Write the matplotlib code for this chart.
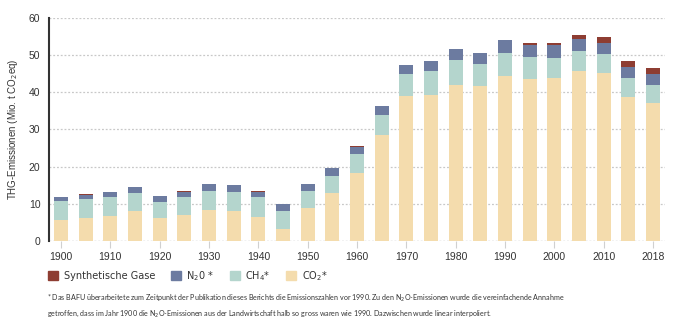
import matplotlib
matplotlib.use("Agg")
import matplotlib.pyplot as plt
import numpy as np
from matplotlib.patches import Patch

years = ["1900", "1905", "1910", "1915", "1920", "1925", "1930", "1935", "1940", "1945",
         "1950", "1955", "1960", "1965", "1970", "1975", "1980", "1985", "1990", "1995",
         "2000", "2005", "2010", "2015", "2018"]
# cumulative tops
co2_top = [5.7, 6.3, 6.8, 8.2, 6.3, 7.1, 8.4, 8.2, 6.5, 3.3, 9.0, 13.0, 18.2, 28.6, 39.1, 39.4,
           42.1, 41.8, 44.5, 43.7, 43.9, 45.8, 45.3, 38.8, 37.0]
ch4_top = [10.85, 11.4, 11.9, 13.0, 10.6, 11.9, 13.5, 13.3, 11.7, 8.2, 13.5, 17.6, 23.5, 34.0, 45.0, 45.6,
           48.8, 47.7, 50.7, 49.6, 49.1, 51.2, 50.4, 43.9, 42.1]
n2o_top = [11.9, 12.5, 13.3, 14.6, 12.2, 13.3, 15.2, 15.0, 13.3, 10.0, 15.4, 19.7, 25.4, 36.4, 47.4, 48.3,
           51.7, 50.7, 54.2, 52.8, 52.6, 54.4, 53.4, 46.9, 44.8]
syn_top = [11.9, 12.56, 13.3, 14.6, 12.2, 13.36, 15.2, 15.06, 13.36, 10.06, 15.4, 19.7, 25.46, 36.4, 47.4, 48.3,
           51.7, 50.7, 54.2, 53.4, 53.4, 55.5, 55.0, 48.5, 46.6]

co2 = np.array(co2_top)
ch4 = np.array(ch4_top) - co2
n2o = np.array(n2o_top) - np.array(ch4_top)
syn = np.array(syn_top) - np.array(n2o_top)

tick_years = ["1900", "1910", "1920", "1930", "1940", "1950", "1960", "1970", "1980",
              "1990", "2000", "2010", "2018"]

c_co2 = "#F4DCAD"
c_ch4 = "#B4D5CD"
c_n2o = "#6C7BA0"
c_syn = "#8E3D32"

fig = plt.figure(figsize=(6.84, 3.25), dpi=100)
ax = fig.add_axes([0.0712, 0.2585, 0.9015, 0.6862])

x = np.arange(len(years))
w = 0.57
ax.bar(x, co2, w, color=c_co2, zorder=3)
ax.bar(x, ch4, w, bottom=co2, color=c_ch4, zorder=3)
ax.bar(x, n2o, w, bottom=co2 + ch4, color=c_n2o, zorder=3)
ax.bar(x, syn, w, bottom=co2 + ch4 + n2o, color=c_syn, zorder=3)

ax.set_xlim(-0.5, len(years) - 0.5)
ax.set_ylim(0, 60)
ax.set_yticks(np.arange(0, 61, 10))
ax.yaxis.grid(True, linestyle=(0, (1.5, 1.5)), color="#c8c8c8", linewidth=0.9, zorder=0)
ax.set_axisbelow(True)

tick_pos = [years.index(t) for t in tick_years]
ax.set_xticks(tick_pos)
ax.set_xticklabels(tick_years)
ax.tick_params(axis="x", length=5, width=0.8, color="#d0d0d0", labelsize=7.5,
               labelcolor="#333333", pad=3)
ax.tick_params(axis="y", length=0, labelsize=7.5, labelcolor="#333333", pad=6)
for lab in ax.get_xticklabels() + ax.get_yticklabels():
    lab.set_family("Liberation Sans")

for s in ["top", "right", "bottom"]:
    ax.spines[s].set_visible(False)
ax.spines["left"].set_color("#333333")
ax.spines["left"].set_linewidth(1.5)
ax.axhline(0, color="#c8c8c8", linestyle=(0, (1.5, 1.5)), linewidth=0.9, zorder=1)

ax.set_ylabel("THG-Emissionen (Mio. t CO$_2$eq)", fontsize=7.0, color="#333333",
              family="Liberation Sans", labelpad=6)

handles = [Patch(color=c_syn), Patch(color=c_n2o), Patch(color=c_ch4), Patch(color=c_co2)]
labels = ["Synthetische Gase", "N$_2$0 *", "CH$_4$*", "CO$_2$*"]
fig.legend(handles, labels, loc="center left", bbox_to_anchor=(0.058, 0.151), ncol=4,
           frameon=False, fontsize=7, handlelength=1.0, handleheight=1.0,
           handletextpad=0.6, columnspacing=1.6, labelcolor="#333333")

foot = ("* Das BAFU überarbeitete zum Zeitpunkt der Publikation dieses Berichts die Emissionszahlen vor 1990. "
        "Zu den N$_2$O-Emissionen wurde die vereinfachende Annahme\n"
        "getroffen, dass im Jahr 1900 die N$_2$O-Emissionen aus der Landwirtschaft halb so gross waren wie 1990. "
        "Dazwischen wurde linear interpoliert.")
fig.text(0.068, 0.059, foot, fontsize=5.1, color="#333333", family="Lato",
         va="center", ha="left", linespacing=1.7)

fig.savefig("out.png", dpi=100)
